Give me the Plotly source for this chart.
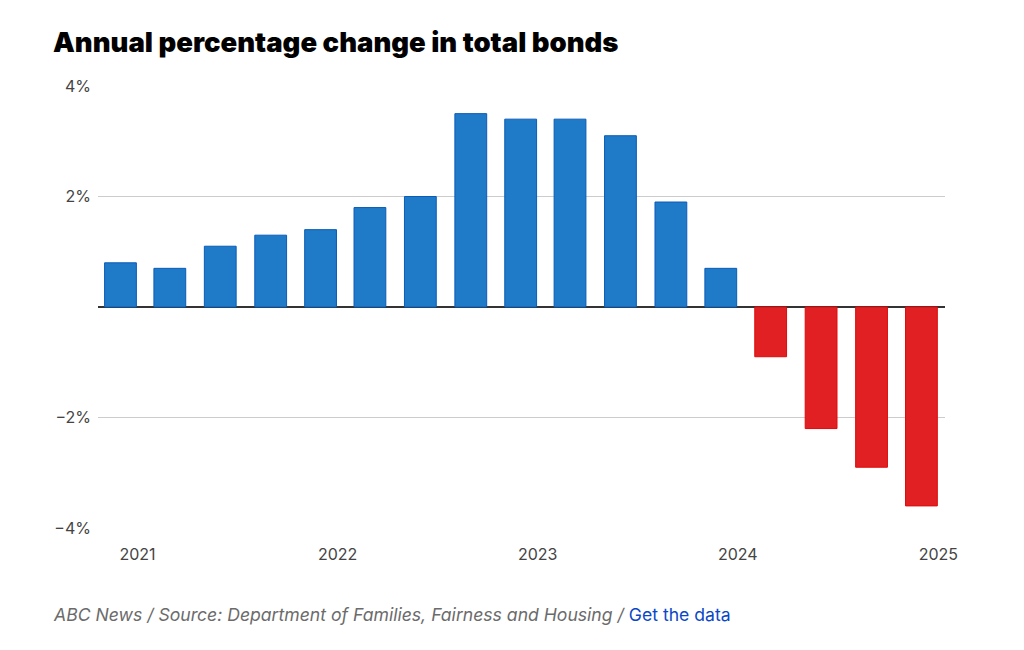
import plotly.graph_objects as go

dates = ["2020-12-01", "2021-03-01", "2021-06-01", "2021-09-01",
         "2021-12-01", "2022-03-01", "2022-06-01", "2022-09-01",
         "2022-12-01", "2023-03-01", "2023-06-01", "2023-09-01",
         "2023-12-01", "2024-03-01", "2024-06-01", "2024-09-01",
         "2024-12-01"]
values = [0.8, 0.7, 1.1, 1.3, 1.4, 1.8, 2.0, 3.5, 3.4, 3.4, 3.1, 1.9, 0.7,
          -0.9, -2.2, -2.9, -3.6]
y_ticks = [-4, -2, 0, 2, 4]
y_labels = ["\u22124%", "\u22122%", "", "2%", "4%"]
x_ticks = ["2021-01-01", "2022-01-01", "2023-01-01", "2024-01-01", "2025-01-01"]
x_labels = ["2021", "2022", "2023", "2024", "2025"]

BLUE, BLUE_EDGE = "#1f7ac8", "#0a5cb8"
RED, RED_EDGE = "#e02022", "#e00a0a"
fill = [BLUE if v >= 0 else RED for v in values]
edge = [BLUE_EDGE if v >= 0 else RED_EDGE for v in values]

DAY_MS = 86400000
fig = go.Figure(go.Bar(
    x=dates, y=values, width=[58 * DAY_MS] * len(values),
    marker=dict(color=fill, line=dict(color=edge, width=1)),
    hovertemplate="%{x|%b %Y}: %{y}%<extra></extra>",
))

fig.update_layout(
    width=1024, height=650,
    margin=dict(l=98, r=79, t=86, b=122),
    paper_bgcolor="white", plot_bgcolor="white",
    font=dict(family="Inter, Roboto, sans-serif", color="#444", size=16),
    showlegend=False,
    xaxis=dict(
        type="date", range=["2020-10-21", "2025-01-13"],
        tickvals=x_ticks, ticktext=x_labels,
        showgrid=False, zeroline=False, showline=False, ticks="",
        ticklabelstandoff=15,
        tickfont=dict(size=16, color="#444"),
    ),
    yaxis=dict(
        range=[-4, 4], tickvals=y_ticks, ticktext=y_labels,
        showgrid=True, gridcolor="#cccccc", gridwidth=1,
        zeroline=True, zerolinecolor="#333333", zerolinewidth=1.5,
        showline=False, ticks="", ticklabelstandoff=6,
        tickfont=dict(size=16, color="#444"),
    ),
    annotations=[
        dict(text="Annual percentage change in total bonds",
             xref="paper", yref="paper", x=-47/847, y=(650-42-122)/442,
             xanchor="left", yanchor="middle", showarrow=False,
             font=dict(family="Inter, sans-serif", size=27.5, color="#000", weight=900)),
        dict(text="<i>ABC News / Source: Department of Families, Fairness and Housing / </i>"
                  "<span style='color:#0a47c8'>Get the data</span>",
             xref="paper", yref="paper", x=-47/847, y=-(614-528)/442,
             xanchor="left", yanchor="middle", showarrow=False,
             font=dict(family="Inter, sans-serif", size=17.6, color="#6b6b6b")),
    ],
)

fig.write_html("out.html")
